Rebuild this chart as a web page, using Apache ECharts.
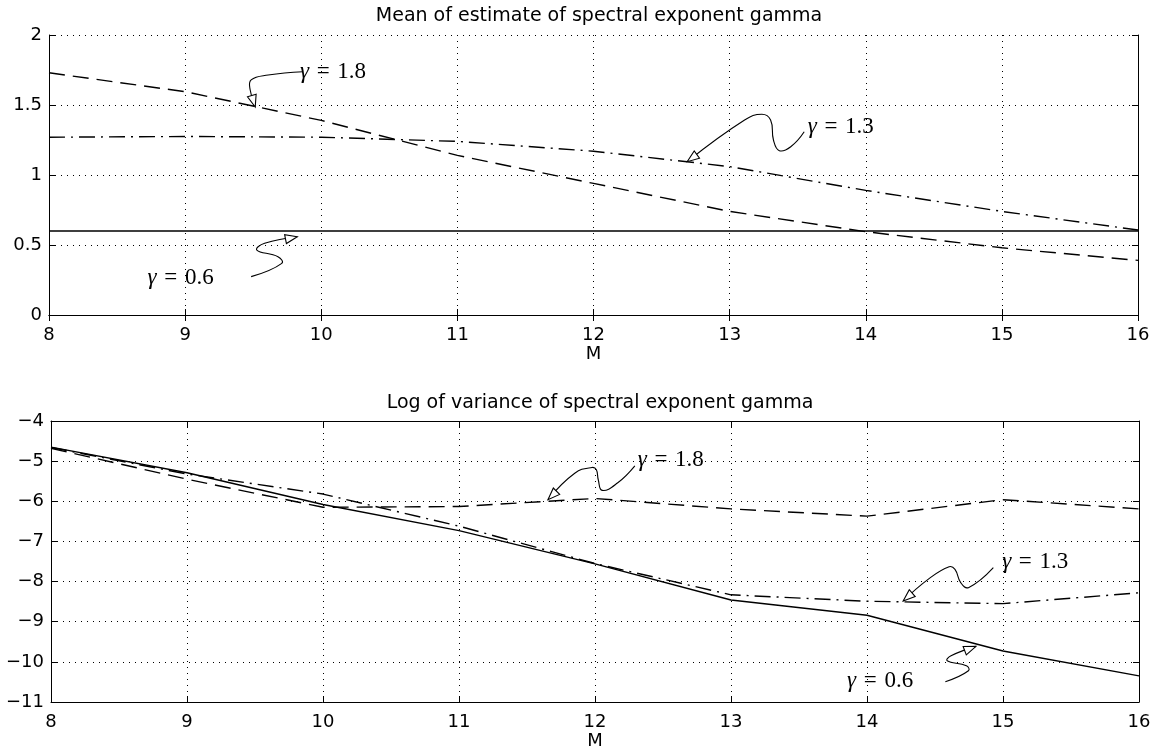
<!DOCTYPE html>
<html>
<head>
<meta charset="utf-8">
<script src="https://cdn.jsdelivr.net/npm/echarts@6/dist/echarts.min.js"></script>
<style>
  html, body { margin: 0; padding: 0; background: #fff; }
  #chart { width: 1157px; height: 751px; }
</style>
</head>
<body>
<div id="chart"></div>
<script>
// M values shared by both panels
const M = [8, 9, 10, 11, 12, 13, 14, 15, 16]

// top panel: mean of estimate of gamma
const meanG18 = [1.73, 1.595, 1.39, 1.14, 0.94, 0.74, 0.595, 0.48, 0.39]
const meanG13 = [1.27, 1.275, 1.27, 1.24, 1.17, 1.06, 0.89, 0.74, 0.607]
const meanG06 = [0.6, 0.6, 0.6, 0.6, 0.6, 0.6, 0.6, 0.6, 0.6]

// bottom panel: log of variance
const logG06 = [-4.65, -5.29, -6.08, -6.73, -7.56, -8.46, -8.84, -9.73, -10.35]
const logG13 = [-4.66, -5.32, -5.82, -6.62, -7.55, -8.33, -8.49, -8.55, -8.28]
const logG18 = [-4.68, -5.45, -6.15, -6.13, -5.93, -6.19, -6.37, -5.96, -6.19]

const topTicks = { min: 0, max: 2, interval: 0.5 }
const bottomTicks = { min: -11, max: -4, interval: 1 }

// gamma labels: text anchor and the squiggly arrow path, all in data coords (last point = arrow tip)
const topNotes = [
  { g: '1.8', text: [9.84, 1.736],
    path: [[9.865, 1.738], [9.61, 1.714], [9.485, 1.679], [9.478, 1.607], [9.515, 1.486]] },
  { g: '1.3', text: [13.57, 1.343],
    path: [[13.548, 1.309], [13.449, 1.202], [13.365, 1.174], [13.322, 1.25], [13.301, 1.393],
      [13.237, 1.434], [13.11, 1.393], [12.688, 1.095]] },
  { g: '0.6', text: [8.72, 0.264],
    path: [[9.485, 0.274], [9.71, 0.369], [9.682, 0.416], [9.527, 0.464], [9.584, 0.512], [9.824, 0.559]] }
]
const bottomNotes = [
  { g: '1.8', text: [12.31, -4.97],
    path: [[12.293, -5.117], [12.165, -5.546], [12.053, -5.729], [12.024, -5.464], [12.01, -5.216],
      [11.978, -5.158], [11.851, -5.3], [11.654, -5.96]] },
  { g: '1.3', text: [14.99, -7.52],
    path: [[14.929, -7.655], [14.746, -8.151], [14.689, -8.027], [14.647, -7.697], [14.604, -7.63],
      [14.449, -7.945], [14.266, -8.484]] },
  { g: '0.6', text: [13.85, -10.48],
    path: [[14.576, -10.494], [14.746, -10.221], [14.731, -10.097], [14.59, -9.973], [14.618, -9.849], [14.801, -9.615]] }
]

const pairs = (ys) => M.map((m, i) => [m, ys[i]])
const black = '#000'
const font = 'DejaVu Sans, sans-serif'
const serif = 'Liberation Serif, serif'

function xAxes(gi) {
  return [{
    type: 'value', gridIndex: gi, min: 8, max: 16, interval: 1,
    name: 'M', nameLocation: 'middle', nameGap: 30,
    nameTextStyle: { color: black, fontSize: 18, fontFamily: font },
    axisLine: { lineStyle: { color: black, width: 1 } },
    axisTick: { inside: true, length: 6, lineStyle: { color: black } },
    axisLabel: { color: black, fontSize: 18, fontFamily: font, margin: 11 },
    splitLine: { show: true, lineStyle: { color: black, type: [1, 5], width: 1 } }
  }, {
    type: 'value', gridIndex: gi, min: 8, max: 16, interval: 1, position: 'top',
    axisLine: { lineStyle: { color: black, width: 1 } },
    axisTick: { inside: true, length: 6, lineStyle: { color: black } },
    axisLabel: { show: false },
    splitLine: { show: false }
  }]
}

function yAxes(gi, t) {
  return [{
    type: 'value', gridIndex: gi, min: t.min, max: t.max, interval: t.interval,
    axisLine: { show: true, lineStyle: { color: black, width: 1 } },
    axisTick: { show: true, inside: true, length: 6, lineStyle: { color: black } },
    axisLabel: {
      color: black, fontSize: 18, fontFamily: font, margin: 7,
      formatter: (v) => String(v).replace('-', '\u2212')
    },
    splitLine: { show: true, lineStyle: { color: black, type: [1, 5], width: 1 } }
  }, {
    type: 'value', gridIndex: gi, min: t.min, max: t.max, interval: t.interval, position: 'right',
    axisLine: { show: true, lineStyle: { color: black, width: 1 } },
    axisTick: { show: true, inside: true, length: 6, lineStyle: { color: black } },
    axisLabel: { show: false },
    splitLine: { show: false }
  }]
}

function lineSeries(xi, yi, ys, dash) {
  return {
    type: 'line', xAxisIndex: xi, yAxisIndex: yi, data: pairs(ys),
    symbol: 'none', silent: true,
    lineStyle: { color: black, width: 1.4, type: dash }
  }
}

// empty series carrying the gamma text labels
function labelSeries(xi, yi, notes) {
  return {
    type: 'line', xAxisIndex: xi, yAxisIndex: yi, data: [], silent: true,
    markPoint: {
      symbol: 'circle', symbolSize: 1, itemStyle: { color: 'rgba(0,0,0,0)' },
      label: {
        show: true, position: 'right', distance: 0,
        rich: {
          g: { fontFamily: serif, fontStyle: 'italic', fontSize: 23, color: black },
          t: { fontFamily: serif, fontSize: 23, color: black }
        }
      },
      data: notes.map((n) => ({
        coord: n.text,
        label: { formatter: '{g|γ}{t|\u2004=\u2004' + n.g + '}' }
      }))
    }
  }
}

const chart = echarts.init(document.getElementById('chart'))
chart.setOption({
  animation: false,
  title: [
    { text: 'Mean of estimate of spectral exponent gamma', left: 594, top: 2, textAlign: 'center',
      textStyle: { fontSize: 19, fontWeight: 'normal', color: black, fontFamily: font } },
    { text: 'Log of variance of spectral exponent gamma', left: 595, top: 389, textAlign: 'center',
      textStyle: { fontSize: 19, fontWeight: 'normal', color: black, fontFamily: font } }
  ],
  grid: [
    { left: 49, right: 19, top: 35, height: 280 },
    { left: 51, right: 18, top: 421, height: 282 }
  ],
  xAxis: [...xAxes(0), ...xAxes(1)],
  yAxis: [...yAxes(0, topTicks), ...yAxes(1, bottomTicks)],
  series: [
    lineSeries(0, 0, meanG18, [16, 8]),
    lineSeries(0, 0, meanG13, [16, 6, 2, 6]),
    lineSeries(0, 0, meanG06, 'solid'),
    labelSeries(0, 0, topNotes),
    lineSeries(2, 2, logG06, 'solid'),
    lineSeries(2, 2, logG13, [16, 6, 2, 6]),
    lineSeries(2, 2, logG18, [16, 8]),
    labelSeries(2, 2, bottomNotes)
  ]
})

// squiggly arrows, placed through the grids' own scales
function arrowGraphics(gridIndex, notes) {
  const out = []
  notes.forEach((n) => {
    const pts = n.path.map((p) => chart.convertToPixel({ gridIndex }, p))
    out.push({
      type: 'polyline', silent: true, z: 50,
      shape: { points: pts, smooth: 0.45 },
      style: { stroke: black, lineWidth: 1.1, fill: null }
    })
    // hollow arrow head at the tip
    const tip = pts[pts.length - 1]
    const prev = pts[pts.length - 2]
    const dx = tip[0] - prev[0]
    const dy = tip[1] - prev[1]
    const len = Math.sqrt(dx * dx + dy * dy)
    const ux = dx / len
    const uy = dy / len
    const hl = 12
    const hw = 4.5
    const bx = tip[0] - ux * hl
    const by = tip[1] - uy * hl
    out.push({
      type: 'polygon', silent: true, z: 51,
      shape: { points: [tip, [bx - uy * hw, by + ux * hw], [bx + uy * hw, by - ux * hw]] },
      style: { stroke: black, lineWidth: 1.1, fill: '#fff' }
    })
  })
  return out
}

chart.setOption({
  graphic: [...arrowGraphics(0, topNotes), ...arrowGraphics(1, bottomNotes)]
})
</script>
</body>
</html>
